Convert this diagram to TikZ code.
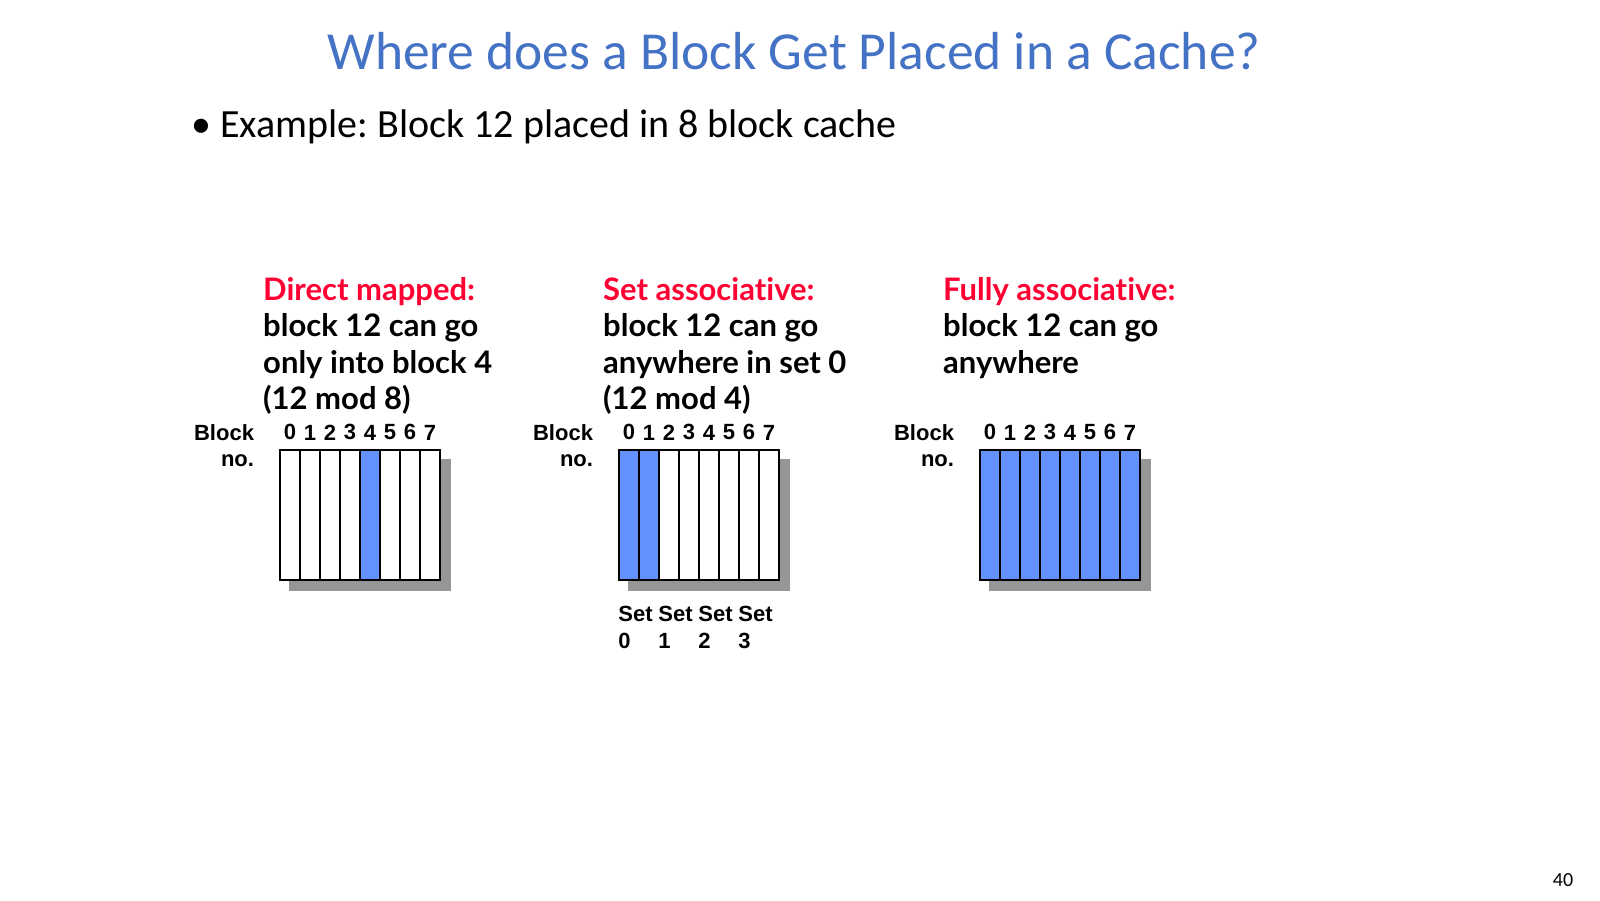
\documentclass[tikz,border=0pt]{standalone}
\usepackage{fontspec}
\setmainfont{Carlito}
\newfontfamily\gillfont{Lato}[Ligatures=NoCommon]
\newfontfamily\arialfont{Liberation Sans}
\usetikzlibrary{positioning,calc,backgrounds}

\definecolor{titleblue}{RGB}{68,114,196}
\definecolor{headred}{RGB}{255,0,51}
\definecolor{cellblue}{RGB}{99,146,255}
\definecolor{shadegray}{RGB}{150,150,150}

\frenchspacing
\begin{document}
\begin{tikzpicture}[x=1pt, y=-1pt,
  slidetitle/.style={font=\fontsize{53.5}{64}\selectfont, text=titleblue, inner sep=0, anchor=base},
  bullettxt/.style={font=\fontsize{40}{48}\selectfont, inner sep=0, anchor=base west},
  desc/.style={font=\gillfont\bfseries\fontsize{31}{36.5}\selectfont, align=left, inner sep=0, anchor=base west},
  cell/.style={draw, line width=1.6pt, minimum width=20pt, minimum height=130pt, inner sep=0},
  num/.style={font=\arialfont\bfseries\fontsize{22}{26}\selectfont, inner sep=0},
  lbl/.style={font=\arialfont\bfseries\fontsize{22}{26}\selectfont, inner sep=0, align=right, anchor=base east},
  setlbl/.style={font=\arialfont\bfseries\fontsize{22}{27}\selectfont, inner sep=0, align=left, anchor=base west},
  shade/.style={fill=shadegray},
]
\useasboundingbox (0,0) rectangle (1600,900);

% title and bullet
\node[slidetitle] (title) at (794,69) {Where does a Block Get Placed in a Cache?};
\node[bullettxt] (example) at (191,137) {\textbullet{} Example: Block 12 placed in 8 block cache};

% direct mapped (anchor = baseline of last line)
\node[desc] (dmtxt) at (263,409.5)
  {\textcolor{headred}{Direct mapped:}\\block 12 can go\\only into block 4\\(12 mod 8)};
\foreach \i/\f in {0/white,1/white,2/white,3/white,4/cellblue,5/white,6/white,7/white} {
  \node[cell, fill=\f] (dm\i) at ({290+20*\i},515) {};
  \node[num, above=9pt of dm\i] (dmn\i) {\i};
}
\node[lbl] (dmlbl) at ($(dm0.north west)+(-25,17)$) {Block\\no.};

% set associative
\node[desc] (satxt) at (603,409.5)
  {\textcolor{headred}{Set associative:}\\block 12 can go\\anywhere in set 0\\(12 mod 4)};
\foreach \i/\f in {0/cellblue,1/cellblue,2/white,3/white,4/white,5/white,6/white,7/white} {
  \node[cell, fill=\f] (sa\i) at ({629+20*\i},515) {};
  \node[num, above=9pt of sa\i] (san\i) {\i};
}
\node[lbl] (salbl) at ($(sa0.north west)+(-25,17)$) {Block\\no.};
\foreach \s/\c in {0/0,1/2,2/4,3/6}
  \node[setlbl] (set\s) at ($(sa\c.south west)+(0,68)$) {Set\\\s};

% fully associative
\node[desc] (fatxt) at (943,373)
  {\textcolor{headred}{Fully associative:}\\block 12 can go\\anywhere};
\foreach \i in {0,...,7} {
  \node[cell, fill=cellblue] (fa\i) at ({990+20*\i},515) {};
  \node[num, above=9pt of fa\i] (fan\i) {\i};
}
\node[lbl] (falbl) at ($(fa0.north west)+(-25,17)$) {Block\\no.};

% drop shadows
\begin{scope}[on background layer]
  \fill[shade] ($(dm0.north west)+(10,10)$) rectangle ($(dm7.south east)+(10,10)$);
  \fill[shade] ($(sa0.north west)+(10,10)$) rectangle ($(sa7.south east)+(10,10)$);
  \fill[shade] ($(fa0.north west)+(10,10)$) rectangle ($(fa7.south east)+(10,10)$);
\end{scope}

\node[font=\fontsize{20}{24}\selectfont, inner sep=0] (pgno) at (1563,880) {40};
\end{tikzpicture}
\end{document}
